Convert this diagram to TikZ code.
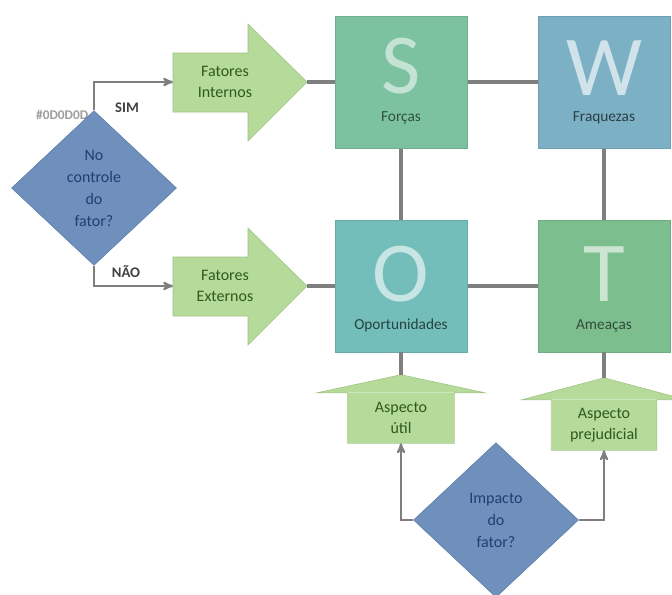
\documentclass[tikz,border=0pt]{standalone}
\usepackage{fontspec}
\setmainfont{Carlito}
\usepackage{tikz}
\usetikzlibrary{arrows,shapes,positioning}

\definecolor{forcas}{HTML}{7DC2A0}
\definecolor{fraquezas}{HTML}{7CB0C4}
\definecolor{oportunid}{HTML}{73BEBA}
\definecolor{ameacas}{HTML}{7CBE8E}
\definecolor{arrowfill}{HTML}{B5DA99}
\definecolor{arrowline}{HTML}{9DC383}
\definecolor{arrowtext}{HTML}{2E5A1F}
\definecolor{diamfill}{HTML}{6F90BC}
\definecolor{diamline}{HTML}{5A7BA6}
\definecolor{diamtext}{HTML}{213E74}
\definecolor{linegray}{HTML}{7F7F7F}

\begin{document}
\begin{tikzpicture}[x=0.75pt,y=-0.75pt,>=stealth',
    swot/.style={rectangle,draw=#1!90!black,fill=#1,minimum size=99pt,inner sep=0pt},
    bigletter/.style={font=\fontsize{64}{64}\selectfont,inner sep=0pt,anchor=base,
                      text depth=0pt},
    boxlabel/.style={font=\fontsize{11.5}{14}\selectfont,inner sep=0pt,anchor=base},
    fatorshape/.style={draw=arrowline,fill=arrowfill,line join=miter},
    fator/.style={text=arrowtext,inner sep=0pt,align=center,
                  font=\fontsize{12}{16}\selectfont},
    aspecto/.style={rectangle,fill=arrowfill,text=arrowtext,minimum height=37.5pt,
                  inner sep=0pt,align=center,font=\fontsize{12}{16}\selectfont},
    arrowedge/.style={draw=arrowline,line join=miter},
    decisao/.style={diamond,draw=diamline,fill=diamfill,text=diamtext,
                  minimum width=123.75pt,minimum height=116pt,inner sep=0pt,
                  align=center,font=\fontsize{12}{16.5}\selectfont},
    grid/.style={line width=3pt,draw=linegray},
    flow/.style={->,line width=1.5pt,draw=linegray},
    resposta/.style={font=\bfseries\fontsize{11}{13}\selectfont,text=black!75}]

  \useasboundingbox (0,0) rectangle (672,594);

  % the four SWOT squares
  \node[swot=forcas]    (S) at (401,82)  {};
  \node[swot=fraquezas] (W) at (604,82)  {};
  \node[swot=oportunid] (O) at (401,286) {};
  \node[swot=ameacas]   (T) at (604,286) {};

  \path[grid] (S) -- (W)  (S) -- (O)  (W) -- (T)  (O) -- (T);
  \node[swot=forcas]    at (S) {};
  \node[swot=fraquezas] at (W) {};
  \node[swot=oportunid] at (O) {};
  \node[swot=ameacas]   at (T) {};

  \node[bigletter,text=forcas!45!white]    (S-let) at ([yshift=-8.25pt]S.center) {S};
  \node[bigletter,text=fraquezas!35!white] (W-let) at ([yshift=-9.75pt]W.center) {W};
  \node[bigletter,text=oportunid!40!white] (O-let) at ([yshift=-11.25pt]O.center) {O};
  \node[bigletter,text=ameacas!40!white]   (T-let) at ([yshift=-11.25pt]T.center) {T};

  \node[boxlabel,text=forcas!40!black]    (S-lab) at ([yshift=-29.5pt]S.center) {Forças};
  \node[boxlabel,text=fraquezas!35!black] (W-lab) at ([yshift=-29.5pt]W.center) {Fraquezas};
  \node[boxlabel,text=oportunid!35!black] (O-lab) at ([yshift=-32.5pt]O.center) {Oportunidades};
  \node[boxlabel,text=ameacas!40!black]   (T-lab) at ([yshift=-32.5pt]T.center) {Ameaças};

  % factor arrows, pointing right
  \coordinate (int-tail) at (173,82);
  \coordinate (int-tip)  at (307,82);
  \draw[fatorshape] (int-tail) ++(0,-29) -- ++(75,0) -- ++(0,-29) -- (int-tip)
        -- ++(-59,59) -- ++(0,-29) -- ++(-75,0) -- cycle;
  \node[fator] (int) at (225,82) {Fatores\\Internos};

  \coordinate (ext-tail) at (173,286);
  \coordinate (ext-tip)  at (307,286);
  \draw[fatorshape] (ext-tail) ++(0,-29) -- ++(75,0) -- ++(0,-29) -- (ext-tip)
        -- ++(-59,59) -- ++(0,-29) -- ++(-75,0) -- cycle;
  \node[fator] (ext) at (225,286) {Fatores\\Externos};

  \path[grid] (int-tip) -- (S.west)  (ext-tip) -- (O.west);

  % aspect arrows, pointing up
  \node[aspecto,minimum width=79.5pt] (util) at (401,418) {Aspecto\\útil};
  \coordinate (util-tip) at ([yshift=13.5pt]util.north);
  \fill[arrowfill] ([xshift=-23pt]util.north west) -- (util-tip)
                   -- ([xshift=23pt]util.north east) -- cycle;
  \draw[arrowedge] (util.south west) -- (util.north west) -- ++(-23pt,0) -- (util-tip)
                   -- ([xshift=23pt]util.north east) -- (util.north east)
                   -- (util.south east) -- cycle;

  \node[aspecto,minimum width=78.75pt] (prej) at (604,425) {Aspecto\\prejudicial};
  \coordinate (prej-tip) at ([yshift=16.5pt]prej.north);
  \fill[arrowfill] ([xshift=-22pt]prej.north west) -- (prej-tip)
                   -- ([xshift=22pt]prej.north east) -- cycle;
  \draw[arrowedge] (prej.south west) -- (prej.north west) -- ++(-22pt,0) -- (prej-tip)
                   -- ([xshift=22pt]prej.north east) -- (prej.north east)
                   -- (prej.south east) -- cycle;

  \path[grid] (O.south) -- (util-tip)  (T.south) -- (prej-tip);

  % decisions
  \node[text=black!38,font=\bfseries\fontsize{10}{12}\selectfont,anchor=east]
        (hex) at (93,115) {\#0D0D0D};
  \node[decisao] (ctrl) at (94,188) {No\\controle\\do\\fator?};
  \node[decisao] (imp)  at (496,520) {Impacto\\do\\fator?};

  \draw[flow] (ctrl.north) |- (int-tail);
  \draw[flow] (ctrl.south) |- (ext-tail);
  \node[resposta] (sim) at (127,108) {SIM};
  \node[resposta] (nao) at (126,272) {NÃO};

  \draw[flow] (imp.west) -| (util.south);
  \draw[flow] (imp.east) -| (prej.south);
\end{tikzpicture}
\end{document}
